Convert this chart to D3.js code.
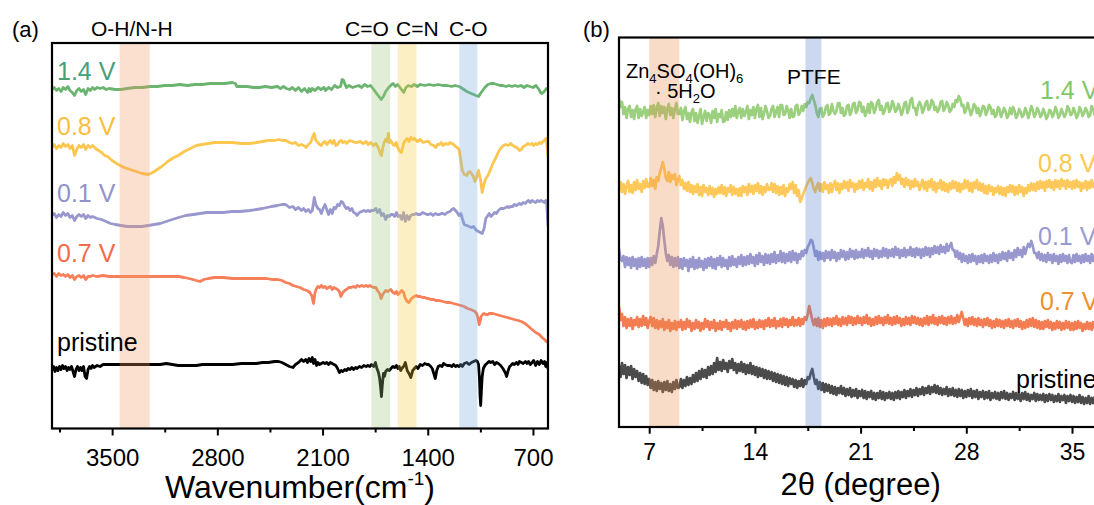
<!DOCTYPE html>
<html>
<head>
<meta charset="utf-8">
<script src="https://cdn.jsdelivr.net/npm/d3@7"></script>
<style>
  body { margin: 0; background: #fff; }
  svg { display: block; }
  text { font-family: "Liberation Sans", Arial, sans-serif; }
</style>
</head>
<body>
<svg id="chart" width="1094" height="505"></svg>
<script>
// ---------------- FTIR spectra: [wavenumber (cm-1), offset transmittance (a.u.)] ----------------
const ftir14V = [[3900,339],[3885,341],[3870,338],[3855,340],[3840,337],[3825,341],[3810,339],[3795,342],[3780,338],[3765,336],[3750,333],[3735,338],[3720,340],[3705,337],[3690,339],[3676,334],[3660,340],[3645,338],[3630,341],[3615,339],[3600,341],[3580,340],[3560,341],[3540,339],[3520,340],[3480,339],[3440,339],[3400,340],[3350,341],[3300,341],[3250,342],[3200,342],[3150,343],[3100,343],[3050,344],[3000,343],[2950,344],[2900,344],[2850,345],[2800,345],[2750,345],[2700,346],[2680,345],[2670,342],[2640,342],[2600,342],[2560,341],[2520,341],[2480,342],[2440,341],[2400,342],[2380,340],[2360,342],[2340,340],[2320,339],[2300,341],[2280,338],[2260,341],[2240,337],[2220,340],[2200,336],[2190,340],[2180,337],[2170,340],[2150,338],[2130,341],[2110,339],[2090,341],[2080,338],[2060,341],[2040,339],[2020,343],[2000,341],[1980,342],[1970,349],[1960,348],[1950,344],[1940,341],[1925,343],[1900,341],[1880,342],[1860,343],[1840,341],[1820,344],[1800,342],[1780,343],[1760,339],[1740,335],[1725,332],[1710,329],[1695,332],[1680,337],[1660,341],[1640,344],[1630,345],[1615,342],[1600,344],[1580,340],[1560,336],[1545,341],[1530,343],[1510,342],[1490,344],[1470,342],[1450,344],[1420,343],[1390,344],[1360,343],[1330,344],[1300,343],[1270,343],[1240,342],[1220,343],[1190,342],[1170,340],[1140,337],[1110,335],[1080,333],[1062,332],[1045,336],[1020,341],[1000,344],[980,345],[960,345],[940,344],[920,343],[900,343],[880,342],[860,343],[840,342],[820,343],[800,342],[780,343],[760,341],[740,343],[720,342],[700,341],[680,343],[660,339],[650,336],[640,335],[625,337],[611,340],[600,339]];

const ftir08V = [[3900,281],[3885,284],[3870,280],[3855,283],[3840,281],[3825,285],[3810,282],[3795,284],[3780,280],[3765,283],[3750,273],[3735,279],[3720,283],[3705,281],[3690,284],[3676,279],[3660,283],[3645,281],[3630,283],[3610,280],[3590,278],[3570,276],[3550,273],[3530,272],[3500,268],[3460,264],[3420,261],[3380,259],[3340,257],[3300,255],[3260,254],[3230,256],[3200,259],[3170,262],[3130,267],[3090,271],[3060,273],[3020,277],[2980,280],[2940,283],[2900,284],[2860,285],[2820,286],[2760,286],[2700,286],[2640,285],[2583,285],[2540,286],[2500,287],[2460,288],[2420,288],[2390,289],[2370,288],[2345,288],[2320,286],[2300,285],[2280,286],[2260,283],[2240,284],[2226,283],[2210,281],[2195,284],[2179,286],[2165,292],[2155,295],[2145,288],[2131,286],[2120,284],[2108,283],[2095,286],[2084,287],[2072,284],[2060,286],[2048,288],[2036,285],[2024,288],[2012,283],[2000,284],[1988,287],[1976,288],[1965,286],[1950,287],[1940,285],[1920,288],[1900,287],[1880,286],[1870,286],[1850,287],[1830,285],[1810,287],[1798,284],[1780,286],[1760,283],[1745,285],[1730,281],[1718,276],[1708,273],[1700,280],[1690,286],[1680,289],[1670,287],[1662,295],[1655,286],[1645,288],[1632,284],[1620,283],[1610,286],[1600,281],[1590,278],[1575,276],[1561,285],[1550,288],[1537,290],[1525,287],[1513,291],[1500,289],[1489,290],[1470,287],[1450,289],[1430,286],[1410,287],[1394,287],[1380,284],[1360,283],[1347,281],[1335,284],[1323,284],[1310,286],[1299,283],[1280,285],[1265,284],[1252,286],[1240,285],[1228,284],[1215,282],[1204,281],[1192,279],[1180,268],[1170,258],[1157,254],[1140,253],[1130,256],[1120,257],[1109,255],[1097,252],[1086,247],[1075,251],[1062,258],[1050,250],[1043,242],[1038,236],[1025,245],[1014,250],[1000,253],[991,256],[975,262],[960,267],[943,272],[925,278],[910,281],[896,283],[880,284],[865,283],[848,285],[835,283],[820,282],[800,280],[790,278],[777,279],[765,282],[750,283],[735,285],[720,284],[706,285],[695,283],[682,285],[670,284],[658,286],[645,285],[634,287],[623,288],[615,290],[608,285],[600,272]];

const ftir01V = [[3900,213],[3885,215],[3870,211],[3855,214],[3840,212],[3825,216],[3810,213],[3795,215],[3780,211],[3765,213],[3750,208],[3735,212],[3720,214],[3705,212],[3690,214],[3676,210],[3660,213],[3645,211],[3630,212],[3600,210],[3570,209],[3540,207],[3510,205],[3480,204],[3440,203],[3400,202],[3350,202],[3300,202],[3260,203],[3220,204],[3180,205],[3140,207],[3100,209],[3058,211],[3010,213],[2960,214],[2915,215],[2870,216],[2820,216],[2760,216],[2702,217],[2650,217],[2583,218],[2540,219],[2500,220],[2440,222],[2400,223],[2370,224],[2345,224],[2320,221],[2297,222],[2280,219],[2260,221],[2240,218],[2226,220],[2210,217],[2195,219],[2180,216],[2168,218],[2155,231],[2145,224],[2131,220],[2120,219],[2108,215],[2096,220],[2084,224],[2072,219],[2060,214],[2048,219],[2036,215],[2024,221],[2012,220],[2000,224],[1988,223],[1976,227],[1965,226],[1952,222],[1941,220],[1930,221],[1917,218],[1905,220],[1893,216],[1880,215],[1870,213],[1855,216],[1840,217],[1825,218],[1810,217],[1798,218],[1785,217],[1775,218],[1760,218],[1745,220],[1735,216],[1720,219],[1708,213],[1695,215],[1680,209],[1668,213],[1656,212],[1645,214],[1632,214],[1620,212],[1608,216],[1598,212],[1585,213],[1573,209],[1561,216],[1549,207],[1537,213],[1525,209],[1513,213],[1500,214],[1489,214],[1477,215],[1465,214],[1450,214],[1435,216],[1420,215],[1405,214],[1394,214],[1380,215],[1365,213],[1350,215],[1335,214],[1323,214],[1310,215],[1299,215],[1285,214],[1270,216],[1252,217],[1240,219],[1228,220],[1215,218],[1204,216],[1192,213],[1180,215],[1170,210],[1157,204],[1140,203],[1125,202],[1109,201],[1095,202],[1086,200],[1075,198],[1062,197],[1050,196],[1038,195],[1025,200],[1014,210],[1000,213],[991,215],[980,212],[967,214],[955,216],[943,215],[930,218],[915,220],[896,220],[880,221],[872,222],[860,221],[848,222],[835,222],[824,224],[810,223],[800,224],[790,225],[777,224],[765,226],[750,225],[740,227],[729,228],[718,226],[706,228],[695,227],[682,226],[670,228],[658,227],[646,228],[634,227],[623,226],[615,228],[608,225],[605,215],[600,203]];

const ftir07V = [[3900,154],[3885,155],[3870,152],[3855,155],[3840,153],[3825,154],[3810,152],[3795,154],[3780,151],[3765,153],[3750,149],[3735,152],[3720,153],[3705,151],[3690,153],[3676,149],[3660,152],[3645,152],[3630,153],[3600,152],[3560,153],[3520,152],[3480,152],[3440,152],[3400,152],[3350,152],[3300,152],[3250,152],[3200,152],[3150,152],[3100,152],[3058,152],[3020,151],[2990,150],[2963,149],[2940,148],[2915,147],[2890,149],[2860,150],[2820,151],[2760,151],[2700,150],[2640,150],[2583,150],[2520,150],[2470,150],[2440,149],[2400,149],[2370,148],[2345,146],[2320,145],[2297,143],[2274,142],[2250,141],[2226,139],[2203,138],[2185,136],[2172,133],[2160,125],[2150,136],[2140,140],[2131,142],[2120,141],[2108,143],[2096,141],[2084,142],[2072,140],[2060,141],[2048,142],[2036,139],[2024,141],[2012,140],[2000,139],[1988,137],[1978,132],[1965,136],[1952,138],[1941,139],[1925,141],[1910,141],[1893,142],[1880,141],[1870,143],[1855,142],[1840,143],[1825,142],[1810,143],[1798,142],[1785,143],[1775,142],[1760,141],[1745,141],[1735,138],[1720,135],[1710,130],[1700,134],[1690,136],[1680,138],[1668,137],[1656,138],[1645,139],[1632,136],[1620,135],[1608,137],[1598,134],[1585,136],[1573,138],[1561,136],[1549,130],[1537,127],[1525,126],[1513,129],[1500,131],[1489,132],[1477,133],[1465,132],[1450,132],[1435,131],[1420,131],[1405,130],[1394,130],[1380,129],[1360,129],[1347,128],[1323,128],[1299,127],[1275,126],[1252,126],[1230,125],[1204,124],[1180,123],[1157,122],[1135,120],[1115,119],[1100,118],[1086,117],[1075,115],[1065,110],[1058,104],[1052,107],[1045,112],[1035,114],[1025,115],[1014,114],[1000,114],[991,115],[967,115],[943,114],[920,113],[896,112],[872,111],[848,110],[824,109],[800,108],[777,107],[753,105],[729,102],[706,99],[682,96],[658,94],[640,91],[623,89],[611,87],[600,86]];

const ftirPristine = [[3900,59],[3890,62],[3880,57],[3870,61],[3860,58],[3850,62],[3840,59],[3830,63],[3820,60],[3810,62],[3800,58],[3790,61],[3780,59],[3770,62],[3760,57],[3750,52],[3740,59],[3730,62],[3720,58],[3710,61],[3700,58],[3690,62],[3680,52],[3670,50],[3660,59],[3650,62],[3640,60],[3630,63],[3620,61],[3600,63],[3580,62],[3560,64],[3533,64],[3500,64],[3460,64],[3420,64],[3380,64],[3340,64],[3300,64],[3260,64],[3220,64],[3180,64],[3140,65],[3100,64],[3060,63],[3020,63],[2980,63],[2940,63],[2900,64],[2860,64],[2820,64],[2760,64],[2700,64],[2640,65],[2583,65],[2540,65],[2500,66],[2460,66],[2420,67],[2392,67],[2370,66],[2345,64],[2320,62],[2297,61],[2280,64],[2260,66],[2240,69],[2226,67],[2212,69],[2200,66],[2190,70],[2179,67],[2168,71],[2160,65],[2150,69],[2140,63],[2131,66],[2120,64],[2108,65],[2096,66],[2084,65],[2072,66],[2060,64],[2048,66],[2036,65],[2024,64],[2012,63],[2000,60],[1988,56],[1976,58],[1965,57],[1952,59],[1941,58],[1930,60],[1917,59],[1905,61],[1893,59],[1880,61],[1870,60],[1855,62],[1840,61],[1825,63],[1810,62],[1798,63],[1785,62],[1775,64],[1760,62],[1748,66],[1738,60],[1728,56],[1720,50],[1714,42],[1708,32],[1702,44],[1695,55],[1688,52],[1680,57],[1668,59],[1656,58],[1645,60],[1632,62],[1620,61],[1608,63],[1598,60],[1590,62],[1580,58],[1573,60],[1561,62],[1549,66],[1537,58],[1525,55],[1513,51],[1500,58],[1489,60],[1477,62],[1465,60],[1450,64],[1435,63],[1420,65],[1405,64],[1394,64],[1380,62],[1370,60],[1360,55],[1350,50],[1340,58],[1330,62],[1318,63],[1305,62],[1295,65],[1285,64],[1270,63],[1252,63],[1240,62],[1228,64],[1215,62],[1204,63],[1192,62],[1180,64],[1170,62],[1157,65],[1140,66],[1125,64],[1109,66],[1095,67],[1080,68],[1070,67],[1062,64],[1056,50],[1052,32],[1048,23],[1044,35],[1038,52],[1030,60],[1020,63],[1014,64],[1000,66],[991,67],[980,66],[967,67],[955,64],[943,66],[930,65],[915,63],[900,60],[885,56],[875,52],[865,58],[855,62],[848,63],[835,65],[824,64],[810,66],[800,64],[790,67],[777,66],[765,65],[750,67],[740,65],[729,67],[718,64],[706,66],[695,68],[682,63],[670,67],[658,64],[646,68],[634,65],[623,67],[615,62],[608,66],[600,60]];

const ftirNames = ["1.4 V", "0.8 V", "0.1 V", "0.7 V", "pristine"];
const ftirSeries = [ftir14V, ftir08V, ftir01V, ftir07V, ftirPristine];
const ftirMajorTicks = [3500, 2800, 2100, 1400, 700];
const ftirMinorTicks = [3850, 3150, 2450, 1750, 1050];
// absorption regions [from, to] in cm-1
const ftirBandNames = ["O-H/N-H", "C=O", "C=N", "C-O"];
const ftirBandRanges = [[3450, 3250], [1775, 1650], [1600, 1475], [1190, 1070]];

// ---------------- XRD patterns: intensity (a.u.) sampled every 0.1 deg from 5.0 deg ----------------
const xrdStart = 5.0;
const xrdStep = 0.1;
const xrd14V = [
  328,320,325,313,320,309,318,321,310,317,308,318,321,309,318,311,315,320,309,317,
  312,321,313,322,310,319,324,311,321,314,320,308,318,323,312,319,309,318,324,313,
  313,319,307,316,320,308,314,305,315,318,306,314,304,311,318,303,310,316,306,314,
  312,304,316,309,318,305,313,310,317,305,306,315,307,317,310,318,311,321,309,316,
  319,309,318,311,315,321,308,317,312,320,309,318,322,310,319,308,313,321,316,309,
  311,318,321,310,315,320,310,322,322,312,313,321,317,309,318,310,311,321,322,312,
  315,321,316,323,320,325,324,329,332,327,322,314,310,318,319,310,313,320,322,312,
  314,323,316,313,316,324,324,314,319,311,313,321,322,312,316,323,324,314,317,325,
  324,315,320,311,315,323,314,325,323,314,318,325,327,317,321,313,316,323,324,315,
  318,326,322,315,317,323,319,312,316,324,325,314,318,327,329,319,319,312,321,325,
  322,314,318,324,326,317,319,327,325,317,320,315,318,325,326,316,319,325,322,315,
  317,323,320,327,325,331,328,321,322,314,318,324,318,312,316,323,321,314,319,311,
  315,321,320,312,316,322,320,313,317,310,312,320,318,310,314,319,316,309,312,319,
  313,320,316,309,312,318,315,310,312,319,315,309,314,321,317,310,313,319,316,310,
  312,318,314,308,311,317,316,310,313,320,316,309,312,318,314,310,313,321,318,312,
  313,319,315,309,312,320,317,311,314,319,316,310,312,321,318,312,317];
const xrd08V = [
  237,245,235,243,233,241,246,235,242,234,245,237,247,238,243,235,246,239,248,240,
  240,249,241,247,238,250,246,254,259,265,258,249,246,255,245,252,248,253,242,247,
  251,242,247,238,244,236,245,235,242,233,241,235,243,232,240,231,242,235,239,232,
  241,233,239,230,238,233,240,234,242,233,240,231,239,235,242,232,240,233,238,231,
  239,231,241,235,240,232,243,235,241,233,242,236,244,234,241,232,240,235,243,237,
  237,244,235,243,234,241,232,240,233,242,231,239,235,243,238,245,234,242,231,237,
  225,229,233,237,241,244,247,249,244,238,235,241,244,236,243,235,245,238,242,234,
  244,235,242,246,237,244,234,243,238,246,239,245,236,247,240,244,235,243,238,246,
  239,247,237,244,240,248,238,245,236,247,240,249,241,246,238,248,242,247,239,246,
  248,241,250,244,254,247,252,243,248,240,249,242,247,238,246,240,248,241,245,237,
  242,247,238,245,236,246,240,248,237,245,235,244,239,247,237,245,236,243,235,244,
  238,246,239,245,236,244,235,243,238,247,239,246,236,244,235,245,239,247,237,244,
  236,243,234,241,233,242,236,240,232,239,235,241,233,240,232,239,231,240,235,242,
  235,241,232,240,233,242,235,240,231,239,234,242,236,244,237,243,236,245,238,246,
  239,245,236,246,240,247,239,245,237,247,240,246,238,248,241,246,238,247,240,245,
  238,246,239,247,240,245,236,244,239,246,237,245,239,247,240,244,239];
const xrd01V = [
  178,168,166,171,160,170,162,169,159,170,161,168,158,169,160,170,161,168,159,169,
  160,169,162,171,164,173,181,196,209,201,187,174,166,172,162,170,160,169,161,170,
  159,168,158,169,161,167,156,168,160,170,158,167,159,169,160,166,157,168,159,169,
  161,170,159,168,158,169,162,171,160,169,161,167,158,170,161,171,162,168,160,170,
  163,172,161,170,162,171,163,173,164,170,161,172,163,174,165,171,162,173,164,172,
  163,173,165,175,164,172,166,176,165,174,164,173,166,175,165,176,167,174,164,173,
  168,176,171,177,174,180,183,187,186,179,171,176,167,175,168,174,166,176,169,175,
  167,177,169,175,166,174,168,177,170,176,167,175,168,178,170,176,168,177,169,175,
  170,178,169,177,171,179,170,176,168,178,171,177,169,176,170,179,171,178,169,177,
  171,178,170,180,172,178,169,177,171,179,170,177,172,180,171,178,170,179,172,178,
  169,178,171,180,172,179,170,179,173,181,174,180,173,182,175,180,174,183,176,181,
  184,177,177,170,176,168,174,165,173,166,171,164,172,165,173,166,171,163,171,165,
  172,164,173,166,171,164,172,165,174,166,172,164,173,167,175,168,174,166,176,169,
  174,167,177,170,179,172,177,170,180,173,179,183,180,186,181,174,174,169,175,167,
  173,166,172,165,174,167,172,164,173,166,171,163,172,165,173,166,171,164,172,165,
  164,172,165,173,166,171,164,172,165,173,166,171,164,173,166,172,168];
const xrd07V = [
  120,107,113,101,110,99,108,101,109,98,107,102,110,100,108,101,111,102,109,99,
  106,110,101,109,99,107,98,106,100,108,97,105,99,107,96,104,98,106,97,105,
  100,107,97,105,98,108,100,106,96,104,98,107,99,105,96,104,98,108,100,106,
  97,105,99,107,96,104,98,106,97,105,100,107,98,104,96,105,99,107,98,106,
  100,107,98,105,97,106,99,107,100,108,98,105,99,107,100,106,98,107,101,109,
  100,107,101,109,99,106,101,108,100,109,102,108,100,107,102,110,101,107,102,109,
  101,108,103,110,107,113,121,114,107,102,108,101,109,100,107,99,108,101,109,102,
  108,101,109,103,111,102,108,101,110,103,109,102,111,104,110,102,109,103,111,104,
  109,102,110,104,112,103,109,101,108,102,110,103,111,104,109,102,110,104,112,103,
  109,102,110,103,111,104,109,101,108,102,110,103,109,102,111,104,110,103,109,102,
  108,101,109,103,111,102,110,104,112,103,109,102,110,104,111,103,109,102,110,104,
  111,103,109,104,112,105,110,115,109,102,108,101,109,103,110,102,108,101,109,102,
  107,100,108,102,109,101,107,99,106,100,108,101,107,100,106,99,107,101,108,100,
  106,99,107,101,108,100,106,98,105,99,107,100,108,101,109,100,107,99,106,98,
  105,98,106,100,107,99,105,97,104,98,106,99,105,97,104,98,106,99,105,97,
  104,97,105,98,106,99,104,96,103,98,105,98,104,97,105,99,104];
const xrdPristine = [
  61,50,64,53,62,49,60,52,61,48,58,50,56,46,54,44,53,43,51,42,
  48,39,47,37,45,36,46,38,44,35,45,37,46,36,43,35,45,38,47,39,
  40,48,39,47,41,50,42,49,43,52,45,54,46,56,48,58,50,57,49,60,
  52,61,53,64,55,69,57,65,56,67,58,64,55,66,59,68,57,64,54,63,
  56,65,55,63,53,62,54,64,53,61,52,60,50,59,51,58,49,57,48,56,
  48,55,46,54,45,53,44,52,43,51,42,50,41,49,43,48,40,47,39,46,
  41,48,40,47,43,50,48,54,58,50,43,47,38,45,37,44,35,43,36,42,
  34,41,33,40,32,39,34,41,33,39,31,38,32,39,30,37,31,38,29,36,
  31,37,29,36,28,35,30,36,28,34,27,34,29,36,28,35,27,34,29,35,
  28,34,27,35,29,36,28,35,30,37,29,36,31,38,30,37,32,39,31,38,
  33,40,32,39,34,41,33,40,35,42,34,41,33,39,32,38,33,40,31,38,
  32,39,31,37,30,38,31,37,29,36,30,37,31,38,29,36,30,37,28,35,
  30,36,28,35,29,36,27,34,29,35,28,34,27,35,29,36,28,34,27,33,
  29,35,27,34,28,33,26,34,28,35,27,33,26,32,28,34,26,33,27,32,
  27,33,25,32,26,33,27,32,25,31,26,33,25,31,27,32,24,31,26,32,
  25,31,24,30,25,32,24,30,23,29,24,31,23,29,24,30,23];

const xrdNames = ["1.4 V", "0.8 V", "0.1 V", "0.7 V", "pristine"];
const xrdSeries = [xrd14V, xrd08V, xrd01V, xrd07V, xrdPristine];
const xrdMajorTicks = [7, 14, 21, 28, 35];
const xrdMinorTicks = [10.5, 17.5, 24.5, 31.5, 38.5];
// reflection regions [from, to] in degrees
const xrdBandRanges = [[7.0, 9.0], [17.35, 18.4]];

// ---------------- styling ----------------
const ftirLineColors = ["#6ab46f", "#fcc64f", "#9898cf", "#f7805a", "#000000"];
const ftirLabelColors = ["#46a07a", "#f9c040", "#9292ca", "#f26b4a", "#000000"];
const ftirLabelPos = [[57, 80], [57, 135], [57, 202], [57, 262], [57, 351]];
const ftirBandColors = ["#f29862", "#9bc376", "#f8ca3a", "#73a8de"];
const ftirBandLabelX = [91, 345, 396, 449];

const xrdLineColors = ["#9bd07e", "#fec95a", "#9898cf", "#f47c53", "#4b4b4b"];
const xrdLabelColors = ["#7ec86a", "#fcc850", "#9a9ad2", "#f0902a", "#000000"];
const xrdLabelPos = [[1040, 98.5], [1038, 172], [1038, 245], [1040, 310], [1016, 388]];
const xrdBandColors = ["#eb8a48", "#527dca"];

const svg = d3.select("#chart");

function styleAxis(g, fontSize) {
  g.select(".domain").remove();
  g.selectAll(".tick line").attr("stroke", "#000").attr("stroke-width", 2);
  g.selectAll(".tick text").attr("fill", "#000").attr("font-size", fontSize)
    .attr("font-family", '"Liberation Sans", Arial, sans-serif');
}

// ================= Panel (a): FTIR =================
const A = { left: 52, right: 548, top: 43, bottom: 428.5 };
const xA = d3.scaleLinear().domain([3900, 600]).range([A.left, A.right]);
const yA = d3.scaleLinear().domain([0, 385.5]).range([A.bottom, A.top]);
const gA = svg.append("g");
gA.append("clipPath").attr("id", "clipA").append("rect")
  .attr("x", A.left).attr("y", A.top).attr("width", A.right - A.left).attr("height", A.bottom - A.top);

const lineA = d3.line().x(d => xA(d[0])).y(d => yA(d[1]));
const plotA = gA.append("g").attr("clip-path", "url(#clipA)");
ftirSeries.forEach((s, i) => {
  plotA.append("path").attr("d", lineA(s)).attr("fill", "none")
    .attr("stroke", ftirLineColors[i]).attr("stroke-width", 2.8)
    .attr("stroke-linejoin", "round").attr("stroke-linecap", "round");
});
// translucent band overlays
ftirBandRanges.forEach((r, i) => {
  plotA.append("rect")
    .attr("x", xA(r[0])).attr("width", xA(r[1]) - xA(r[0]))
    .attr("y", A.top).attr("height", A.bottom - A.top)
    .attr("fill", ftirBandColors[i]).attr("fill-opacity", 0.3);
});
gA.append("rect").attr("x", A.left).attr("y", A.top)
  .attr("width", A.right - A.left).attr("height", A.bottom - A.top)
  .attr("fill", "none").attr("stroke", "#000").attr("stroke-width", 2.2);

gA.append("g").attr("transform", `translate(0,${A.bottom})`)
  .call(d3.axisBottom(xA).tickValues(ftirMajorTicks).tickSize(7).tickPadding(13).tickFormat(d3.format("d")))
  .call(g => styleAxis(g, 24));
gA.append("g").attr("transform", `translate(0,${A.bottom})`)
  .call(d3.axisBottom(xA).tickValues(ftirMinorTicks).tickSize(4).tickFormat(""))
  .call(g => styleAxis(g, 24));

// axis title
const tA = gA.append("text").attr("x", (A.left + A.right) / 2).attr("y", 498)
  .attr("text-anchor", "middle").attr("font-size", 32).attr("fill", "#000");
tA.append("tspan").text("Wavenumber(cm");
tA.append("tspan").attr("font-size", 19).attr("dy", -13).text("-1");
tA.append("tspan").attr("dy", 13).text(")");

gA.append("text").attr("x", 12).attr("y", 37).attr("font-size", 22).text("(a)");
ftirBandNames.forEach((n, i) => {
  gA.append("text").attr("x", ftirBandLabelX[i]).attr("y", 35.5).attr("font-size", 21).attr("fill", "#000").text(n);
});
ftirNames.forEach((n, i) => {
  gA.append("text").attr("x", ftirLabelPos[i][0]).attr("y", ftirLabelPos[i][1])
    .attr("font-size", 25).attr("fill", ftirLabelColors[i]).text(n);
});

// ================= Panel (b): XRD =================
const B = { left: 619, right: 1147.5, top: 37.5, bottom: 427 };
const xB = d3.scaleLinear().domain([5, 40]).range([B.left, B.right]);
const yB = d3.scaleLinear().domain([0, 389.5]).range([B.bottom, B.top]);
const gB = svg.append("g");
gB.append("clipPath").attr("id", "clipB").append("rect")
  .attr("x", B.left).attr("y", B.top).attr("width", B.right - B.left).attr("height", B.bottom - B.top);

const lineB = d3.line().x((d, i) => xB(xrdStart + i * xrdStep)).y(d => yB(d));
const plotB = gB.append("g").attr("clip-path", "url(#clipB)");
xrdSeries.forEach((s, i) => {
  plotB.append("path").attr("d", lineB(s)).attr("fill", "none")
    .attr("stroke", xrdLineColors[i]).attr("stroke-width", 2.7)
    .attr("stroke-linejoin", "round").attr("stroke-linecap", "round");
});
xrdBandRanges.forEach((r, i) => {
  plotB.append("rect")
    .attr("x", xB(r[0])).attr("width", xB(r[1]) - xB(r[0]))
    .attr("y", B.top).attr("height", B.bottom - B.top)
    .attr("fill", xrdBandColors[i]).attr("fill-opacity", 0.3);
});
gB.append("rect").attr("x", B.left).attr("y", B.top)
  .attr("width", B.right - B.left).attr("height", B.bottom - B.top)
  .attr("fill", "none").attr("stroke", "#000").attr("stroke-width", 2.2);

gB.append("g").attr("transform", `translate(0,${B.bottom})`)
  .call(d3.axisBottom(xB).tickValues(xrdMajorTicks).tickSize(6.7).tickPadding(10).tickFormat(d3.format("d")))
  .call(g => styleAxis(g, 23));
gB.append("g").attr("transform", `translate(0,${B.bottom})`)
  .call(d3.axisBottom(xB).tickValues(xrdMinorTicks).tickSize(4).tickFormat(""))
  .call(g => styleAxis(g, 23));

gB.append("text").attr("x", xB(21)).attr("y", 495).attr("text-anchor", "middle")
  .attr("font-size", 31).attr("fill", "#000").text("2\u03B8 (degree)");
gB.append("text").attr("x", 583).attr("y", 37).attr("font-size", 22).text("(b)");

// phase annotation with sub-scripts
const zn = gB.append("text").attr("x", 626).attr("y", 77.5).attr("font-size", 20).attr("fill", "#000");
zn.append("tspan").text("Zn");
zn.append("tspan").attr("font-size", 13).attr("dy", 5).text("4");
zn.append("tspan").attr("dy", -5).text("SO");
zn.append("tspan").attr("font-size", 13).attr("dy", 5).text("4");
zn.append("tspan").attr("dy", -5).text("(OH)");
zn.append("tspan").attr("font-size", 13).attr("dy", 5).text("6");
const hyd = gB.append("text").attr("x", 655).attr("y", 97.5).attr("font-size", 20).attr("fill", "#000");
hyd.append("tspan").text("\u00B7 5H");
hyd.append("tspan").attr("font-size", 13).attr("dy", 5).text("2");
hyd.append("tspan").attr("dy", -5).text("O");
gB.append("text").attr("x", 787).attr("y", 84).attr("font-size", 21).attr("fill", "#000").text("PTFE");

xrdNames.forEach((n, i) => {
  gB.append("text").attr("x", xrdLabelPos[i][0]).attr("y", xrdLabelPos[i][1])
    .attr("font-size", 25).attr("fill", xrdLabelColors[i]).text(n);
});
</script>
</body>
</html>
